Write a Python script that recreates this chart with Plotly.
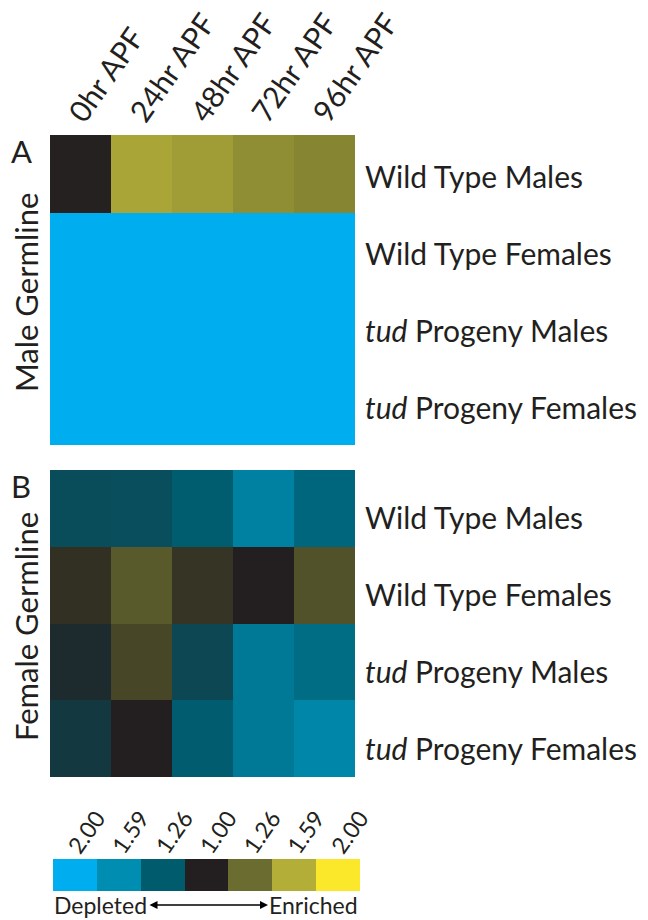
import plotly.graph_objects as go

W, H = 648, 920

timepoints = ["0hr APF", "24hr APF", "48hr APF", "72hr APF", "96hr APF"]
groups = ["Wild Type Males", "Wild Type Females", "<i>tud</i> Progeny Males", "<i>tud</i> Progeny Females"]

# signed log2 fold change (negative = depleted, positive = enriched)
male_germline = [
    [0.01, 0.62, 0.58, 0.50, 0.46],
    [-1.0, -1.0, -1.0, -1.0, -1.0],
    [-1.0, -1.0, -1.0, -1.0, -1.0],
    [-1.0, -1.0, -1.0, -1.0, -1.0],
]
female_germline = [
    [-0.25, -0.26, -0.35, -0.59, -0.41],
    [0.07, 0.25, 0.09, 0.0, 0.22],
    [-0.06, 0.17, -0.22, -0.53, -0.45],
    [-0.14, 0.0, -0.34, -0.53, -0.62],
]
legend_values = [-1.0, -0.667, -0.333, 0.0, 0.333, 0.667, 1.0]
legend_labels = ["2.00", "1.59", "1.26", "1.00", "1.26", "1.59", "2.00"]

colorscale = [
    [0.0, "#00AEEF"], [1/6, "#008DB2"], [2/6, "#005B6D"], [0.5, "#231F20"],
    [4/6, "#6A6D2F"], [5/6, "#B3AE38"], [1.0, "#FCE82B"],
]

def px_x(p):
    return p / W

def px_y(p):
    return 1 - p / H

FONT = "Lato"
TXT = "#231F20"

fig = go.Figure()
fig.add_trace(go.Heatmap(z=male_germline, x=list(range(5)), y=list(range(4)),
                         colorscale=colorscale, zmin=-1, zmax=1, showscale=False,
                         xaxis="x", yaxis="y", hoverinfo="skip"))
fig.add_trace(go.Heatmap(z=female_germline, x=list(range(5)), y=list(range(4)),
                         colorscale=colorscale, zmin=-1, zmax=1, showscale=False,
                         xaxis="x2", yaxis="y2", hoverinfo="skip"))
fig.add_trace(go.Heatmap(z=[legend_values], x=list(range(7)), y=[0],
                         colorscale=colorscale, zmin=-1, zmax=1, showscale=False,
                         xaxis="x3", yaxis="y3", hoverinfo="skip"))

xdom = [px_x(50), px_x(355)]
fig.update_layout(
    width=W, height=H, margin=dict(l=0, r=0, t=0, b=0, autoexpand=False),
    paper_bgcolor="white", plot_bgcolor="white",
    font=dict(family=FONT, color=TXT),
    xaxis=dict(domain=xdom, anchor="y", side="top", tickmode="array",
               tickvals=list(range(5)), ticktext=timepoints, tickangle=-55,
               tickfont=dict(size=30, family=FONT, color=TXT), automargin=False,
               ticklabelstandoff=-3, ticklabelshift=-8,
               ticks="", showgrid=False, zeroline=False, showline=False, range=[-0.5, 4.5]),
    yaxis=dict(domain=[px_y(445), px_y(135)], anchor="x", autorange="reversed",
               showticklabels=False, showgrid=False, zeroline=False, ticks="", automargin=False),
    xaxis2=dict(domain=xdom, anchor="y2", showticklabels=False, showgrid=False,
                zeroline=False, ticks="", range=[-0.5, 4.5], automargin=False),
    yaxis2=dict(domain=[px_y(777), px_y(470)], anchor="x2", autorange="reversed",
                showticklabels=False, showgrid=False, zeroline=False, ticks="", automargin=False),
    xaxis3=dict(domain=[px_x(53), px_x(360)], anchor="y3", side="top", tickmode="array",
                tickvals=list(range(7)), ticktext=legend_labels, tickangle=-55,
                tickfont=dict(size=23, family=FONT, color=TXT), automargin=False,
                ticklabelstandoff=-7, ticklabelshift=-4,
                ticks="", showgrid=False, zeroline=False, range=[-0.5, 6.5]),
    yaxis3=dict(domain=[px_y(891), px_y(859)], anchor="x3", showticklabels=False,
                showgrid=False, zeroline=False, ticks="", automargin=False),
)

ann = []
LBL = 30
rowA = [176, 253, 330, 407]
rowB = [517, 594, 671, 748]
for yy, g in zip(rowA + rowB, groups + groups):
    ann.append(dict(x=px_x(363), y=px_y(yy), xref="paper", yref="paper", text=g,
                    showarrow=False, xanchor="left", yanchor="middle",
                    font=dict(size=LBL, family=FONT, color=TXT)))
# panel letters and side titles
ann.append(dict(x=px_x(21), y=px_y(151), xref="paper", yref="paper", text="A",
                showarrow=False, xanchor="center", yanchor="middle",
                font=dict(size=31, family=FONT, color=TXT)))
ann.append(dict(x=px_x(21), y=px_y(486), xref="paper", yref="paper", text="B",
                showarrow=False, xanchor="center", yanchor="middle",
                font=dict(size=31, family=FONT, color=TXT)))
ann.append(dict(x=px_x(26), y=px_y(293), xref="paper", yref="paper", text="Male Germline",
                showarrow=False, textangle=-90, xanchor="center", yanchor="middle",
                font=dict(size=31, family=FONT, color=TXT)))
ann.append(dict(x=px_x(26), y=px_y(627), xref="paper", yref="paper", text="Female Germline",
                showarrow=False, textangle=-90, xanchor="center", yanchor="middle",
                font=dict(size=31, family=FONT, color=TXT)))
# legend caption
ann.append(dict(x=px_x(52), y=px_y(905), xref="paper", yref="paper", text="Depleted",
                showarrow=False, xanchor="left", yanchor="middle",
                font=dict(size=23, family=FONT, color=TXT)))
ann.append(dict(x=px_x(360), y=px_y(905), xref="paper", yref="paper", text="Enriched",
                showarrow=False, xanchor="right", yanchor="middle",
                font=dict(size=23, family=FONT, color=TXT)))
ann.append(dict(x=px_x(268), y=px_y(905), xref="paper", yref="paper", text="",
                showarrow=True, ax=-120, ay=0, arrowside="end+start", arrowhead=2,
                arrowsize=1, arrowwidth=1.6, arrowcolor="#000000"))
fig.update_layout(annotations=ann)

fig.write_html("out.html", config={"displayModeBar": False},
               post_script="document.body.style.margin='0px';")
